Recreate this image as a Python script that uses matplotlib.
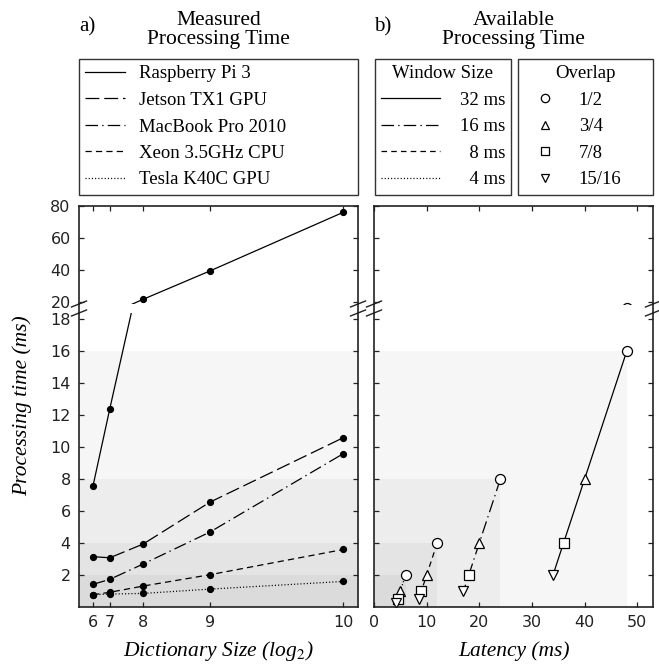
import numpy as np
import matplotlib.pyplot as plt
from matplotlib.lines import Line2D

plt.rcParams['lines.scale_dashes'] = False
plt.rcParams['mathtext.fontset'] = 'stix'

SERIF = ['Liberation Serif', 'DejaVu Serif']

# measured processing time (ms) per dictionary size
dict_log2 = [6, 7, 8, 9, 10]
dict_size = [64, 128, 256, 512, 1024]
devices = ['Raspberry Pi 3', 'Jetson TX1 GPU', 'MacBook Pro 2010',
           'Xeon 3.5GHz CPU', 'Tesla K40C GPU']
rpi3 = [7.6, 12.4, 21.7, 39.4, 76.1]
jetson = [3.15, 3.08, 3.94, 6.56, 10.6]
macbook = [1.42, 1.73, 2.69, 4.69, 9.6]
xeon = [0.77, 0.92, 1.31, 2.02, 3.6]
tesla = [0.77, 0.81, 0.85, 1.12, 1.6]

# available processing time (hop) vs latency, per window size and overlap
windows = ['32 ms', '16 ms', '\u20078 ms', '\u20074 ms']
overlaps = ['1/2', '3/4', '7/8', '15/16']
lat_32 = [48, 40, 36, 34]
hop_32 = [16, 8, 4, 2]
lat_16 = [24, 20, 18, 17]
hop_16 = [8, 4, 2, 1]
lat_8 = [12, 10, 9, 8.5]
hop_8 = [4, 2, 1, 0.5]
lat_4 = [6, 5, 4.5, 4.25]
hop_4 = [2, 1, 0.5, 0.25]

dev_data = [rpi3, jetson, macbook, xeon, tesla]
dev_styles = ['-', (0, (10, 3.5)), (0, (9, 3, 1, 3)), (0, (4.5, 3)), (0, (0.8, 1.5))]
win_lat = [lat_32, lat_16, lat_8, lat_4]
win_hop = [hop_32, hop_16, hop_8, hop_4]
win_styles = ['-', (0, (9, 3, 1, 3)), (0, (4, 3)), (0, (0.8, 1.5))]
markers = ['o', '^', 's', 'v']

W, H = 659, 665
fig = plt.figure(figsize=(W / 100, H / 100), dpi=100)


def box(x0, y0, x1, y1):
    return [x0 / W, 1 - y1 / H, (x1 - x0) / W, (y1 - y0) / H]


a_top = fig.add_axes(box(79, 206, 358, 304))
a_bot = fig.add_axes(box(79, 313, 358, 607))
b_top = fig.add_axes(box(374, 206, 653, 304))
b_bot = fig.add_axes(box(374, 313, 653, 607))

shade = dict(color='k', alpha=0.034, lw=0)

# panel a
for h in [hop[0] for hop in win_hop]:
    a_bot.axhspan(0, h, **shade)
for ax in (a_top, a_bot):
    for vals, ls in zip(dev_data, dev_styles):
        ax.plot(dict_size, vals, ls=ls, color='k', lw=0.9,
                marker='o', ms=4.2, mfc='k', mec='k')
    ax.set_xlim(10, 1080)

# panel b
for lat, hop in zip(win_lat, win_hop):
    b_bot.fill_between([0, lat[0]], 0, hop[0], **shade)
for ax in (b_top, b_bot):
    for lat, hop, ls in zip(win_lat, win_hop, win_styles):
        ax.plot(lat, hop, ls=ls, color='k', lw=0.9)
        for x, y, m in zip(lat, hop, markers):
            ax.plot(x, y, marker=m, ms=7.2, mfc='w', mec='k', mew=0.9, ls='none')
    ax.set_xlim(0, 53)

for ax in (a_top, b_top):
    ax.set_ylim(18.75, 80)
    ax.set_yticks([20, 40, 60, 80])
    ax.spines['bottom'].set_visible(False)
    ax.tick_params(axis='x', bottom=False, top=True, labelbottom=False)
for ax in (a_bot, b_bot):
    ax.set_ylim(0, 18.4)
    ax.set_yticks(np.arange(2, 19, 2))
    ax.spines['top'].set_visible(False)
    ax.tick_params(axis='x', top=False, bottom=True)

a_top.set_xticks(dict_size)
a_bot.set_xticks(dict_size, [str(v) for v in dict_log2])
b_top.set_xticks(np.arange(0, 51, 10))
b_bot.set_xticks(np.arange(0, 51, 10))

for ax in (a_top, a_bot, b_top, b_bot):
    ax.set_facecolor('none')
    for s in ax.spines.values():
        s.set_linewidth(1.2)
        s.set_color('#222222')
    ax.tick_params(direction='in', length=3.5, width=0.9, labelsize=11.5,
                   colors='#222222', right=True, pad=6)
for ax in (b_top, b_bot):
    ax.tick_params(axis='y', labelleft=False)

# axis break marks and spine joins
for x_px in (79, 358, 374, 653):
    xf = x_px / W
    fig.add_artist(Line2D([xf, xf], [1 - 313 / H, 1 - 304 / H], color='#222222', lw=1.2))
    for y_px in (304, 313):
        fig.add_artist(Line2D([(x_px - 7.5) / W, (x_px + 7.5) / W],
                              [1 - (y_px + 3) / H, 1 - (y_px - 3) / H],
                              color='#222222', lw=1.0))

# legends
leg_kw = dict(loc='upper left', mode='expand', borderaxespad=0,
              prop={'family': SERIF, 'size': 13.5},
              title_fontproperties={'family': SERIF, 'size': 13.5},
              fancybox=False, edgecolor='#333333', framealpha=1,
              labelspacing=0.5, borderpad=0.34)

dev_handles = [Line2D([], [], ls=ls, color='k', lw=0.9) for ls in dev_styles]
fig.legend(dev_handles, devices, bbox_to_anchor=(79 / W, 1 - 59 / H, 279 / W, 0),
           handlelength=2.1, handletextpad=0.75, **leg_kw)

win_handles = [Line2D([], [], ls=ls, color='k', lw=0.9) for ls in win_styles]
fig.legend(win_handles, windows, title='Window Size',
           bbox_to_anchor=(375 / W, 1 - 59 / H, 136 / W, 0),
           handlelength=3.1, handletextpad=1.1, **leg_kw)

ov_handles = [Line2D([], [], ls='none', marker=m, ms=6, mfc='w', mec='k', mew=0.9)
              for m in markers]
fig.legend(ov_handles, overlaps, title='Overlap',
           bbox_to_anchor=(518 / W, 1 - 59 / H, 135 / W, 0),
           handlelength=2.2, handletextpad=0.7, **leg_kw)

# titles and labels
fig.text(218.5 / W, 1 - 30 / H, 'Measured\nProcessing Time', ha='center', va='center',
         family=SERIF, size=15.5, linespacing=0.95)
fig.text(513.5 / W, 1 - 30 / H, 'Available\nProcessing Time', ha='center', va='center',
         family=SERIF, size=15.5, linespacing=0.95)
fig.text(79 / W, 1 - 27 / H, 'a)', ha='left', va='center', family=SERIF, size=15)
fig.text(374 / W, 1 - 27 / H, 'b)', ha='left', va='center', family=SERIF, size=15)

fig.text(22 / W, 1 - 406 / H, 'Processing time (ms)', rotation=90, ha='center', va='center',
         family=SERIF, style='italic', size=15.5)
fig.text(218.5 / W, 1 - 651 / H, r'Dictionary Size (log$_\mathrm{2}$)', ha='center', va='center',
         family=SERIF, style='italic', size=15.5)
fig.text(513.5 / W, 1 - 651 / H, 'Latency (ms)', ha='center', va='center',
         family=SERIF, style='italic', size=15.5)

fig.savefig('out.png', dpi=100)
